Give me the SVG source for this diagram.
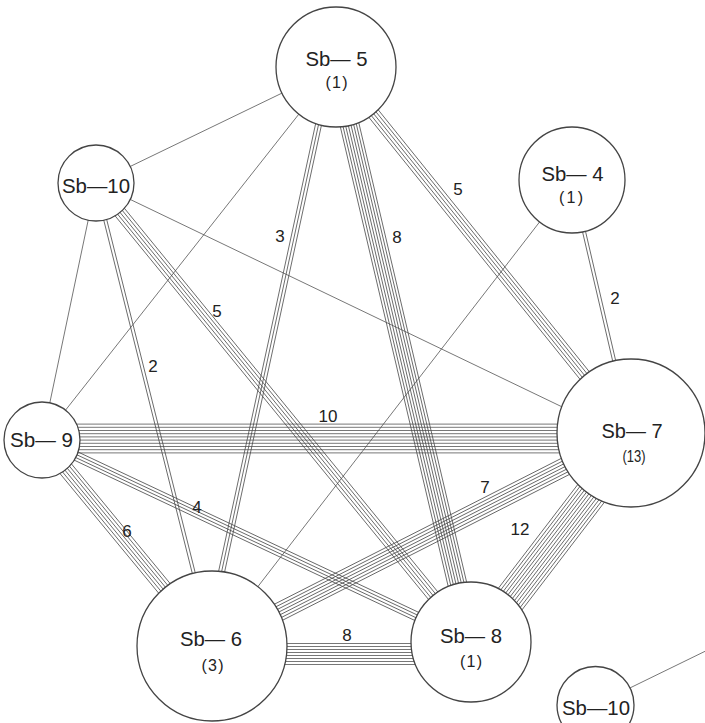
<svg xmlns="http://www.w3.org/2000/svg" width="705" height="723" viewBox="0 0 705 723">
<style>
.c{stroke:#4a4a4a;stroke-width:0.75;fill:none}
.n{fill:#fff;stroke:#444;stroke-width:1.3}
.t{font-family:"Liberation Sans",Arial,sans-serif;font-size:21px;fill:#222;text-anchor:middle}
.s{font-family:"Liberation Sans",Arial,sans-serif;font-size:16px;fill:#222;text-anchor:middle}
.e{font-family:"Liberation Sans",Arial,sans-serif;font-size:17px;fill:#222;text-anchor:middle}
</style>
<rect width="705" height="723" fill="#fff"/>
<g id="connectors">
  <!-- single lines -->
  <path class="c" d="M336 67L96 183"/>
  <path class="c" d="M336 67L42 440"/>
  <path class="c" d="M96 183L631 440"/>
  <path class="c" d="M96 183L42 440"/>
  <path class="c" d="M572 180L212 646"/>
  <path class="c" d="M595 705L720 644"/>
  <!-- Sb-5 / Sb-6 : 3 -->
  <path class="c" transform="translate(331 67) rotate(102.23)" d="M0 -3H592.4M0 0H592.4M0 3H592.4"/>
  <!-- Sb-5 / Sb-8 : 8 -->
  <path class="c" transform="translate(336 67) rotate(76.79)" d="M0 -9.45H590.6M0 -6.75H590.6M0 -4.05H590.6M0 -1.35H590.6M0 1.35H590.6M0 4.05H590.6M0 6.75H590.6M0 9.45H590.6"/>
  <!-- Sb-5 / Sb-7 : 5 -->
  <path class="c" transform="translate(336 67) rotate(51.13)" d="M0 -6H470.1M0 -3H470.1M0 0H470.1M0 3H470.1M0 6H470.1"/>
  <!-- Sb-10 / Sb-6 : 2 -->
  <path class="c" transform="translate(96 183) rotate(75.93)" d="M0 -1.5H477.3M0 1.5H477.3"/>
  <!-- Sb-10 / Sb-8 : 5 -->
  <path class="c" transform="translate(96 183) rotate(50.75)" d="M0 -6H592.7M0 -3H592.7M0 0H592.7M0 3H592.7M0 6H592.7"/>
  <!-- Sb-4 / Sb-7 : 2 -->
  <path class="c" transform="translate(572 180) rotate(76.87)" d="M0 -1.5H259.8M0 1.5H259.8"/>
  <!-- Sb-9 / Sb-7 : 10 -->
  <path class="c" transform="translate(42 438.5)" d="M0 -14.4H589M0 -11.2H589M0 -8H589M0 -4.8H589M0 -1.6H589M0 1.6H589M0 4.8H589M0 8H589M0 11.2H589M0 14.4H589"/>
  <!-- Sb-9 / Sb-8 : 4 -->
  <path class="c" transform="translate(42 440) rotate(25.21)" d="M0 -4.5H474.2M0 -1.5H474.2M0 1.5H474.2M0 4.5H474.2"/>
  <!-- Sb-9 / Sb-6 : 6 -->
  <path class="c" transform="translate(42 440) rotate(50.47)" d="M0 -7.5H267.1M0 -4.5H267.1M0 -1.5H267.1M0 1.5H267.1M0 4.5H267.1M0 7.5H267.1"/>
  <!-- Sb-6 / Sb-7 : 7 -->
  <path class="c" transform="translate(212 646) rotate(-26.94)" d="M0 -9H470M0 -6H470M0 -3H470M0 0H470M0 3H470M0 6H470M0 9H470"/>
  <!-- Sb-6 / Sb-8 : 8 -->
  <path class="c" transform="translate(212 654)" d="M0 -10.5H259M0 -7.5H259M0 -4.5H259M0 -1.5H259M0 1.5H259M0 4.5H259M0 7.5H259M0 10.5H259"/>
  <!-- Sb-8 / Sb-7 : 12 -->
  <path class="c" transform="translate(475 645) rotate(-52.56)" d="M0 -15.95H263.2M0 -13.05H263.2M0 -10.15H263.2M0 -7.25H263.2M0 -4.35H263.2M0 -1.45H263.2M0 1.45H263.2M0 4.35H263.2M0 7.25H263.2M0 10.15H263.2M0 13.05H263.2M0 15.95H263.2"/>
</g>
<g id="edge-labels">
  <text class="e" x="280" y="242">3</text>
  <text class="e" x="397" y="243">8</text>
  <text class="e" x="458" y="195">5</text>
  <text class="e" x="217" y="317">5</text>
  <text class="e" x="615" y="304">2</text>
  <text class="e" x="153" y="372">2</text>
  <text class="e" x="328" y="422">10</text>
  <text class="e" x="197" y="513">4</text>
  <text class="e" x="127" y="537">6</text>
  <text class="e" x="485" y="493">7</text>
  <text class="e" x="520" y="535">12</text>
  <text class="e" x="347" y="641">8</text>
</g>
<g id="sb5">
  <circle class="n" cx="336" cy="67" r="60"/>
  <text class="t" x="336.5" y="66" textLength="62" lengthAdjust="spacingAndGlyphs">Sb— 5</text>
  <text class="s" x="336.5" y="88" textLength="22">(1)</text>
</g>
<g id="sb10">
  <circle class="n" cx="96" cy="183" r="38"/>
  <text class="t" x="96" y="193" textLength="68" lengthAdjust="spacingAndGlyphs">Sb—10</text>
</g>
<g id="sb4">
  <circle class="n" cx="572" cy="180" r="53"/>
  <text class="t" x="572.5" y="181" textLength="62" lengthAdjust="spacingAndGlyphs">Sb— 4</text>
  <text class="s" x="571" y="203" textLength="24">(1)</text>
</g>
<g id="sb9">
  <circle class="n" cx="42" cy="440" r="38"/>
  <text class="t" x="41.5" y="447" textLength="63" lengthAdjust="spacingAndGlyphs">Sb— 9</text>
</g>
<g id="sb7">
  <circle class="n" cx="631" cy="433" r="74"/>
  <text class="t" x="632" y="438" textLength="61" lengthAdjust="spacingAndGlyphs">Sb— 7</text>
  <text class="s" x="634" y="462" textLength="23" lengthAdjust="spacingAndGlyphs">(13)</text>
</g>
<g id="sb6">
  <circle class="n" cx="212" cy="646" r="75"/>
  <text class="t" x="211" y="646" textLength="62" lengthAdjust="spacingAndGlyphs">Sb— 6</text>
  <text class="s" x="212.5" y="671" textLength="22">(3)</text>
</g>
<g id="sb8">
  <circle class="n" cx="471" cy="642" r="60"/>
  <text class="t" x="471" y="643" textLength="62" lengthAdjust="spacingAndGlyphs">Sb— 8</text>
  <text class="s" x="471" y="667" textLength="22">(1)</text>
</g>
<g id="sb10b">
  <circle class="n" cx="595.5" cy="705" r="38.5"/>
  <text class="t" x="596" y="715" textLength="68" lengthAdjust="spacingAndGlyphs">Sb—10</text>
</g>
</svg>
